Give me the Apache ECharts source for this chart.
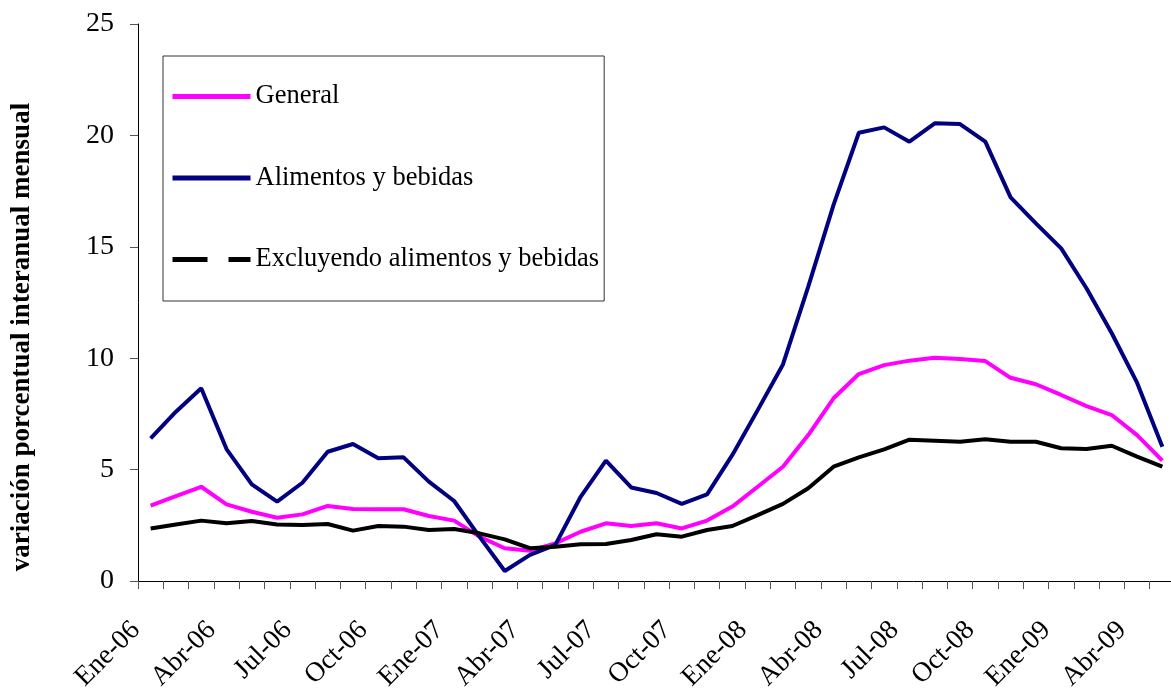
<!DOCTYPE html>
<html>
<head>
<meta charset="utf-8">
<script src="https://cdn.jsdelivr.net/npm/echarts@6/dist/echarts.min.js"></script>
<style>
html,body{margin:0;padding:0;background:#fff;}
#chart{width:1171px;height:692px;}
</style>
</head>
<body>
<div id="chart"></div>
<script>
const months = ['Ene','Feb','Mar','Abr','May','Jun','Jul','Ago','Sep','Oct','Nov','Dic'];
const categories = [];
['06','07','08','09'].forEach(function(y){ months.forEach(function(m){ categories.push(m + '-' + y); }); });
categories.length = 41; // Ene-06 .. May-09

const general = [3.38,3.81,4.23,3.44,3.11,2.84,2.99,3.37,3.23,3.22,3.22,2.92,2.71,1.99,1.47,1.36,1.69,2.21,2.59,2.47,2.59,2.36,2.71,3.34,4.23,5.13,6.55,8.20,9.29,9.69,9.89,10.02,9.96,9.87,9.12,8.83,8.35,7.85,7.45,6.55,5.40];
const alimentos = [6.40,7.60,8.65,5.92,4.34,3.56,4.41,5.80,6.15,5.51,5.55,4.46,3.59,1.99,0.45,1.17,1.62,3.78,5.40,4.20,3.95,3.46,3.89,5.66,7.67,9.72,13.21,16.88,20.12,20.36,19.72,20.54,20.51,19.72,17.22,16.05,14.93,13.14,11.12,8.90,6.03];
const excluyendo = [2.36,2.54,2.71,2.59,2.69,2.54,2.51,2.56,2.26,2.47,2.44,2.29,2.33,2.14,1.87,1.47,1.54,1.65,1.66,1.84,2.10,1.99,2.29,2.47,2.96,3.46,4.16,5.13,5.55,5.91,6.34,6.30,6.25,6.36,6.25,6.25,5.96,5.92,6.07,5.58,5.13];
const yTicks = [0,5,10,15,20,25];
const seriesNames = ['General','Alimentos y bebidas','Excluyendo alimentos y bebidas'];
const yTitle = 'variación porcentual interanual mensual';

const chart = echarts.init(document.getElementById('chart'), null, {renderer:'canvas'});
const serif = '"Liberation Serif","Times New Roman",serif';
chart.setOption({
  backgroundColor:'#fff',
  animation:false,
  grid:{left:138, top:24, width:1037, height:557, containLabel:false, outerBoundsMode:'none'},
  legend:{
    orient:'vertical', left:163, top:56,
    padding:[27,5,28,7],
    itemGap:54.5, itemWidth:78, itemHeight:26,
    borderColor:'#333', borderWidth:1,
    itemStyle:{opacity:0},
    lineStyle:{width:5},
    textStyle:{fontFamily:serif, fontSize:26.5, color:'#000'},
    data:[
      {name:seriesNames[0]},
      {name:seriesNames[1]},
      {name:seriesNames[2], lineStyle:{type:[35,21], width:5}}
    ]
  },
  xAxis:{
    type:'category', data:categories, boundaryGap:true,
    axisLine:{lineStyle:{color:'#000', width:1}},
    axisTick:{show:true, interval:0, length:8, lineStyle:{color:'#555'}},
    axisLabel:{interval:2, rotate:45, fontFamily:serif, fontSize:27.5, color:'#000', margin:30, padding:[0,21,0,0]},
    splitLine:{show:false}
  },
  yAxis:{
    type:'value', min:yTicks[0], max:yTicks[yTicks.length-1], interval:5,
    axisLine:{show:true, lineStyle:{color:'#000', width:1}},
    axisTick:{show:true, length:8, lineStyle:{color:'#555'}},
    axisLabel:{fontFamily:serif, fontSize:28, color:'#000', margin:24},
    splitLine:{show:false}
  },
  graphic:[{
    type:'text', x:22, y:337, rotation:Math.PI/2,
    style:{text:yTitle, font:'bold 27px "Liberation Serif", serif', fill:'#000', textAlign:'center', textVerticalAlign:'middle'}
  }],
  series:[
    {name:seriesNames[0], type:'line', data:general, symbol:'none', lineStyle:{color:'#FF00FF', width:4}, itemStyle:{color:'#FF00FF'}},
    {name:seriesNames[1], type:'line', data:alimentos, symbol:'none', lineStyle:{color:'#000080', width:4}, itemStyle:{color:'#000080'}},
    {name:seriesNames[2], type:'line', data:excluyendo, symbol:'none', lineStyle:{color:'#000000', width:4}, itemStyle:{color:'#000000'}}
  ]
});
</script>
</body>
</html>
